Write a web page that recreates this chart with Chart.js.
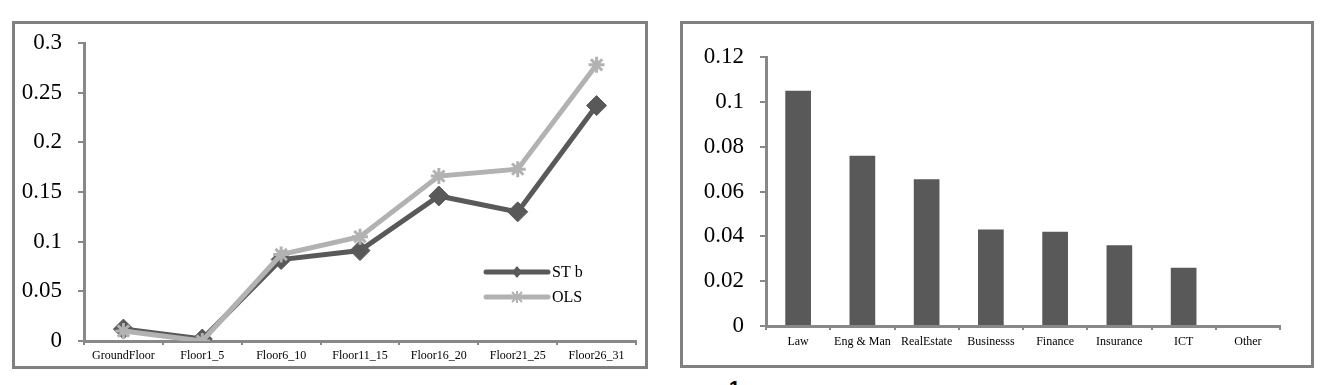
<!DOCTYPE html>
<html>
<head>
<meta charset="utf-8">
<script src="https://cdn.jsdelivr.net/npm/chart.js@4.4.1/dist/chart.umd.min.js"></script>
<style>
  html, body { margin: 0; padding: 0; background: #fff; }
  body { width: 1327px; height: 385px; overflow: hidden; position: relative; }
  .box { position: absolute; border: 3px solid #808080; box-sizing: border-box; background: #fff; }
  .box canvas { position: absolute; left: 0; top: 0; }
  #pageNum { position: absolute; left: 729px; top: 377px; font: bold 20px "Liberation Sans", Arial, sans-serif; color: #000; }
</style>
</head>
<body>
<div class="box" style="left:12px; top:21px; width:636px; height:348px;">
  <canvas id="floorChart" width="630" height="342"></canvas>
</div>
<div class="box" style="left:680px; top:21px; width:634px; height:347px;">
  <canvas id="sectorChart" width="628" height="341"></canvas>
</div>
<div id="pageNum">1</div>

<script>
// ---- data ----
const floors = ['GroundFloor', 'Floor1_5', 'Floor6_10', 'Floor11_15', 'Floor16_20', 'Floor21_25', 'Floor26_31'];
const stb = [0.012, 0.002, 0.082, 0.091, 0.146, 0.130, 0.237];
const ols = [0.010, 0.000, 0.087, 0.105, 0.166, 0.173, 0.278];
const floorTicks = [0, 0.05, 0.1, 0.15, 0.2, 0.25, 0.3];

const sectors = ['Law', 'Eng & Man', 'RealEstate', 'Businesss', 'Finance', 'Insurance', 'ICT', 'Other'];
const sectorValues = [0.105, 0.076, 0.0655, 0.043, 0.042, 0.036, 0.026, 0];
const sectorTicks = [0, 0.02, 0.04, 0.06, 0.08, 0.1, 0.12];

const serif = '"Liberation Serif", "Times New Roman", serif';
const axisGray = '#888888';
const darkGray = '#595959';
const lightGray = '#b2b2b2';

// legend drawn inside the plot, like the original
const lineLegend = {
    id: 'lineLegend',
    afterDraw(chart) {
        const ctx = chart.ctx;
        const items = [
            { text: 'ST b', color: darkGray, marker: 'diamond', y: 248 },
            { text: 'OLS', color: lightGray, marker: 'star', y: 273 }
        ];
        const x0 = 471, x1 = 533;
        ctx.save();
        items.forEach(it => {
            ctx.strokeStyle = it.color;
            ctx.fillStyle = it.color;
            ctx.lineWidth = 5;
            ctx.lineCap = 'round';
            ctx.beginPath();
            ctx.moveTo(x0, it.y);
            ctx.lineTo(x1, it.y);
            ctx.stroke();
            const cx = (x0 + x1) / 2, r = 5;
            if (it.marker === 'diamond') {
                ctx.beginPath();
                ctx.moveTo(cx, it.y - r - 1);
                ctx.lineTo(cx + r, it.y);
                ctx.lineTo(cx, it.y + r + 1);
                ctx.lineTo(cx - r, it.y);
                ctx.closePath();
                ctx.fill();
            } else {
                ctx.lineWidth = 2;
                ctx.lineCap = 'butt';
                ctx.beginPath();
                ctx.moveTo(cx - r, it.y - r); ctx.lineTo(cx + r, it.y + r);
                ctx.moveTo(cx + r, it.y - r); ctx.lineTo(cx - r, it.y + r);
                ctx.moveTo(cx, it.y - r - 1); ctx.lineTo(cx, it.y + r + 1);
                ctx.stroke();
            }
            ctx.fillStyle = '#000';
            ctx.font = '16px ' + serif;
            ctx.textBaseline = 'middle';
            ctx.textAlign = 'left';
            ctx.fillText(it.text, x1 + 4, it.y + 1);
        });
        ctx.restore();
    }
};

function yAxis(max, ticks, width) {
    return {
        min: 0,
        max: max,
        afterBuildTicks: s => { s.ticks = ticks.map(v => ({ value: v })); },
        afterFit: s => {
            s.width = width;
            // label padding would otherwise push the plot area in
            s.paddingTop = 0;
            s.paddingBottom = 0;
        },
        border: { display: true, color: axisGray, width: 3 },
        grid: { drawOnChartArea: false, drawTicks: true, tickLength: 6, color: axisGray, lineWidth: 2 },
        ticks: {
            color: '#000',
            padding: 16,
            font: { family: serif, size: 23 },
            callback: v => String(v)
        }
    };
}

function xAxis(height, pad) {
    return {
        offset: true,
        afterFit: s => { s.height = height; },
        border: { display: true, color: axisGray, width: 3 },
        grid: { offset: true, drawOnChartArea: false, drawTicks: true, tickLength: 4, color: axisGray, lineWidth: 2 },
        ticks: {
            color: '#000',
            padding: pad,
            maxRotation: 0,
            autoSkip: false,
            font: { family: serif, size: 12 }
        }
    };
}

new Chart(document.getElementById('floorChart'), {
    type: 'line',
    data: {
        labels: floors,
        datasets: [
            {
                label: 'ST b',
                data: stb,
                order: 1,
                borderColor: darkGray,
                backgroundColor: darkGray,
                borderWidth: 5,
                pointStyle: 'rectRot',
                pointRadius: 10,
                pointBorderWidth: 1,
                pointBorderColor: darkGray,
                pointBackgroundColor: darkGray,
                tension: 0
            },
            {
                label: 'OLS',
                data: ols,
                order: 0,
                borderColor: lightGray,
                backgroundColor: lightGray,
                borderWidth: 5,
                pointStyle: 'star',
                pointRadius: 8,
                pointBorderWidth: 3,
                pointBorderColor: lightGray,
                tension: 0
            }
        ]
    },
    options: {
        responsive: false,
        animation: false,
        layout: { autoPadding: false, padding: { left: 0, top: 19, right: 9, bottom: 0 } },
        plugins: { legend: { display: false }, tooltip: { enabled: false } },
        scales: {
            x: xAxis(25, 4),
            y: yAxis(0.3, floorTicks, 69)
        }
    },
    plugins: [lineLegend]
});

new Chart(document.getElementById('sectorChart'), {
    type: 'bar',
    data: {
        labels: sectors,
        datasets: [{
            label: 'value',
            data: sectorValues,
            backgroundColor: darkGray,
            borderWidth: 0,
            categoryPercentage: 1,
            barPercentage: 0.4
        }]
    },
    options: {
        responsive: false,
        animation: false,
        layout: { autoPadding: false, padding: { left: 0, top: 33, right: 31, bottom: 0 } },
        plugins: { legend: { display: false }, tooltip: { enabled: false } },
        scales: {
            x: xAxis(39, 5),
            y: yAxis(0.12, sectorTicks, 83)
        }
    }
});
</script>
</body>
</html>
